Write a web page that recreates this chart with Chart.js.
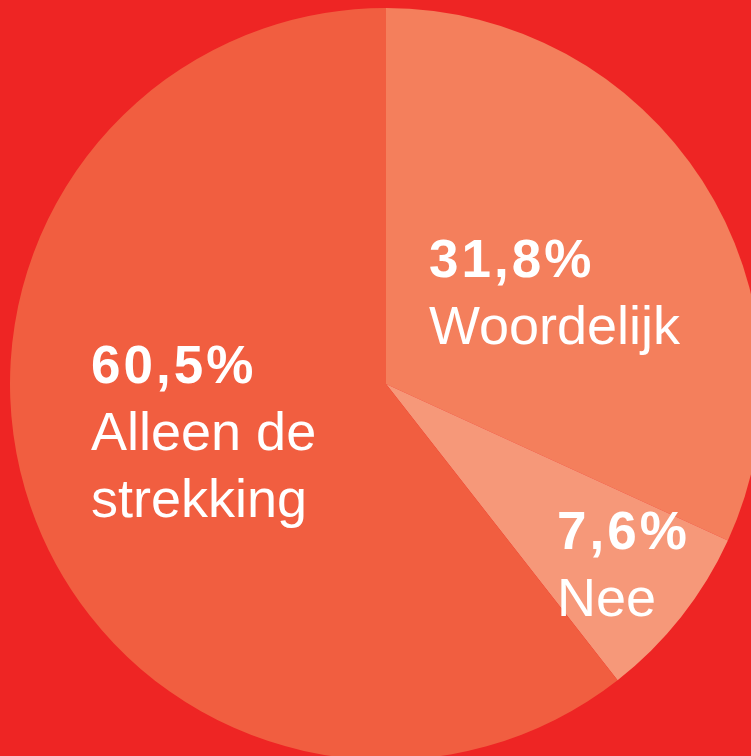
<!DOCTYPE html>
<html lang="nl">
  <head>
    <meta charset="UTF-8" />
    <title>Woordelijk</title>
    <style>
      html,
      body {
        margin: 0;
        width: 751px;
        height: 756px;
        overflow: hidden;
        background: #ee2524;
      }
      #pie {
        position: absolute;
        left: 10px;
        top: 8px;
      }
    </style>
  </head>
  <body>
    <canvas id="pie" width="752" height="752"></canvas>

    <script src="https://cdn.jsdelivr.net/npm/chart.js@4.4.0/dist/chart.umd.min.js"></script>
    <script>
      // antwoorden, met de klok mee vanaf boven
      const labels = ["Woordelijk", "Nee", "Alleen de strekking"];
      const values = [31.8, 7.6, 60.5];
      const colors = ["#f47f5c", "#f69879", "#f15e40"];

      // tekstregels per segment
      const labelLines = [["Woordelijk"], ["Nee"], ["Alleen de", "strekking"]];
      // plaats van het tekstblok t.o.v. het middelpunt (px)
      const labelOffsets = [
        [43, -107],
        [171, 165],
        [-295, -1],
      ];

      const fmt = (v) => v.toFixed(1).replace(".", ",") + "%";

      const pieLabels = {
        id: "pieLabels",
        afterDraw(chart) {
          const ctx = chart.ctx;
          const arcs = chart.getDatasetMeta(0).data;
          ctx.save();
          ctx.fillStyle = "#ffffff";
          ctx.textAlign = "left";
          ctx.textBaseline = "alphabetic";
          arcs.forEach((arc, i) => {
            const x = arc.x + labelOffsets[i][0];
            let y = arc.y + labelOffsets[i][1];
            ctx.font = "bold 53px 'Liberation Sans', Arial, sans-serif";
            ctx.letterSpacing = "3px";
            ctx.fillText(fmt(values[i]), x, y);
            ctx.font = "54px 'Liberation Sans', Arial, sans-serif";
            ctx.letterSpacing = "0px";
            labelLines[i].forEach((line) => {
              y += 67;
              ctx.fillText(line, x, y);
            });
          });
          ctx.restore();
        },
      };

      new Chart(document.getElementById("pie"), {
        type: "pie",
        data: {
          labels: labels,
          datasets: [
            {
              data: values,
              backgroundColor: colors,
              borderWidth: 0,
            },
          ],
        },
        options: {
          responsive: false,
          animation: false,
          layout: { padding: 0 },
          plugins: {
            legend: { display: false },
            tooltip: { enabled: false },
          },
        },
        plugins: [pieLabels],
      });
    </script>
  </body>
</html>
